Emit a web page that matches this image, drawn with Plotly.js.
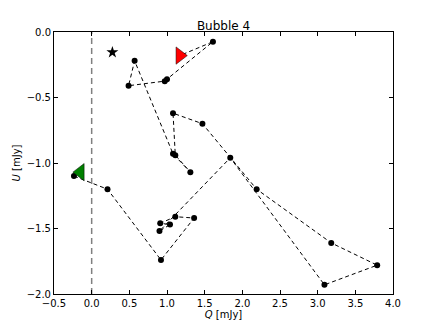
<!DOCTYPE html>
<html>
<head>
<meta charset="utf-8">
<script src="https://cdn.plot.ly/plotly-3.0.1.min.js"></script>
<style>
  body { margin: 0; background: #fff; }
  #plot { width: 436px; height: 327px; }
</style>
</head>
<body>
<div id="plot"></div>
<script>
// path of the bubble in the Q/U plane, in drawing order
const qPath = [-0.235, 0.21, 0.92, 1.36, 1.11, 0.91, 1.04, 0.90, 1.84, 3.09, 3.79, 3.18, 2.19, 1.47, 1.08, 1.11, 1.31, 1.08, 0.57, 0.49, 0.97, 1.00, 1.61, 1.17];
const uPath = [-1.10, -1.20, -1.74, -1.42, -1.41, -1.46, -1.47, -1.52, -0.96, -1.93, -1.78, -1.61, -1.20, -0.70, -0.62, -0.94, -1.07, -0.93, -0.22, -0.41, -0.375, -0.36, -0.074, -0.18];

// start / end / star markers
const startQ = [-0.15], startU = [-1.07];
const endQ = [1.17], endU = [-0.18];
const starQ = [0.275], starU = [-0.155];

const xTicks = [-0.5, 0.0, 0.5, 1.0, 1.5, 2.0, 2.5, 3.0, 3.5, 4.0];
const yTicks = [-2.0, -1.5, -1.0, -0.5, 0.0];

const font = { family: 'DejaVu Sans', size: 10, color: '#000' };

const data = [
    {
        x: qPath,
        y: uPath,
        mode: 'lines+markers',
        line: { color: '#000', width: 1, dash: '4px,3px' },
        marker: { color: '#000', size: 6 },
        hoverinfo: 'skip'
    },
    {
        x: starQ, y: starU, mode: 'markers',
        marker: { symbol: 'star', color: '#000', size: 9 }
    },
    {
        x: endQ, y: endU, mode: 'markers',
        marker: { symbol: 'triangle-right', color: '#ff0000', size: 15, line: { color: '#000', width: 0.5 } }
    },
    {
        x: startQ, y: startU, mode: 'markers',
        marker: { symbol: 'triangle-left', color: '#008000', size: 15, line: { color: '#000', width: 0.5 } }
    }
];

const axisCommon = {
    showgrid: false,
    zeroline: false,
    showline: true,
    linecolor: '#000',
    linewidth: 1,
    mirror: 'allticks',
    ticks: 'inside',
    ticklen: 4,
    tickcolor: '#000',
    tickformat: '.1f',
    tickfont: font
};

const layout = {
    width: 436,
    height: 327,
    showlegend: false,
    paper_bgcolor: '#fff',
    plot_bgcolor: '#fff',
    margin: { l: 54, r: 43, t: 32, b: 33 },
    title: {
        text: 'Bubble 4',
        font: { family: 'DejaVu Sans', size: 12, color: '#000' },
        x: 0.5, xref: 'paper',
        y: 1, yref: 'paper', yanchor: 'bottom',
        pad: { b: 2 }
    },
    xaxis: Object.assign({}, axisCommon, {
        range: [-0.5, 4.0],
        tickvals: xTicks,
        title: { text: '<i>Q</i> [mJy]', font: font, standoff: 2 }
    }),
    yaxis: Object.assign({}, axisCommon, {
        range: [-2.0, 0.0],
        tickvals: yTicks,
        title: { text: '<i>U</i> [mJy]', font: font, standoff: 4 }
    }),
    shapes: [
        {
            type: 'line', xref: 'x', yref: 'paper',
            x0: 0, x1: 0, y0: 0, y1: 1,
            line: { color: '#808080', width: 1.5, dash: '6px,4px' },
            layer: 'below'
        }
    ]
};

Plotly.newPlot('plot', data, layout, { displayModeBar: false, staticPlot: true });
</script>
</body>
</html>
